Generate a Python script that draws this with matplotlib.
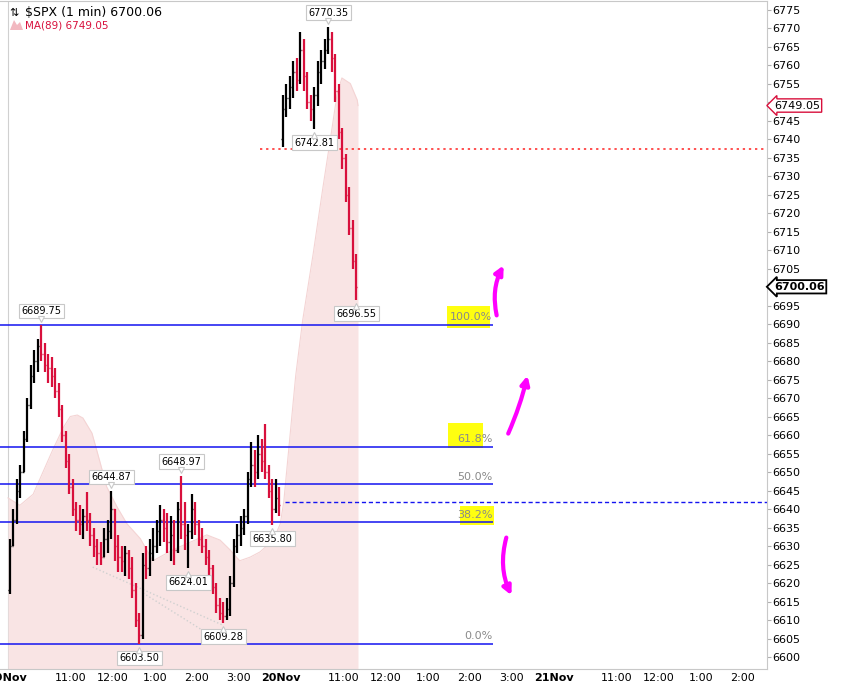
import numpy as np
import matplotlib.pyplot as plt
import matplotlib.transforms as mtransforms
from matplotlib.patches import Rectangle, Polygon

# 5-minute bars: 19Nov full session, 20Nov to ~11:20
highs = [6632, 6640, 6648, 6652, 6661, 6670, 6679, 6683, 6686, 6689.75,
         6685, 6682, 6681, 6678, 6674, 6668, 6661, 6655, 6648, 6642,
         6641, 6640, 6644.5, 6639, 6635, 6632, 6631, 6635, 6637, 6644.87,
         6640, 6633, 6630, 6630, 6629, 6627, 6620, 6612, 6628, 6630,
         6632, 6635, 6637, 6641, 6640, 6639, 6638, 6637, 6642, 6648.97,
         6642, 6636, 6644, 6642, 6637, 6635, 6632, 6629, 6625, 6620,
         6616, 6615, 6616, 6622, 6632, 6636, 6638, 6640, 6650, 6658,
         6656, 6660, 6659, 6663, 6652, 6648, 6648, 6646,
         6752, 6755, 6757, 6761, 6762, 6769, 6767, 6758, 6752, 6754,
         6761, 6764, 6767, 6770.35, 6769, 6763, 6755, 6743, 6736, 6727,
         6718, 6709]
lows = [6617, 6630, 6636, 6643, 6650, 6658, 6667, 6674, 6677, 6680,
        6677, 6674, 6673, 6670, 6665, 6658, 6651, 6644, 6638, 6634,
        6633, 6632, 6634, 6630, 6627, 6625, 6625, 6627, 6628, 6632,
        6626, 6623, 6623, 6622, 6621, 6616, 6608, 6603.5, 6605, 6621,
        6622, 6626, 6628, 6630, 6631, 6628, 6626, 6625, 6628, 6632,
        6629, 6624.01, 6632, 6633, 6630, 6628, 6625, 6622, 6617, 6612,
        6610, 6609.28, 6610, 6611, 6619, 6628, 6630, 6633, 6636, 6646,
        6646, 6648, 6650, 6648, 6643, 6635.8, 6639, 6638,
        6737.8, 6746, 6748, 6751, 6753, 6755, 6753, 6748, 6745, 6742.81,
        6749, 6755, 6759, 6763, 6758, 6750, 6740, 6732, 6723, 6714,
        6705, 6696.55]
closes = [6630, 6637, 6645, 6650, 6659, 6668, 6676, 6680, 6684, 6682,
          6679, 6678, 6676, 6672, 6667, 6660, 6653, 6646, 6640, 6637,
          6636, 6638, 6637, 6633, 6630, 6628, 6627, 6632, 6634, 6640,
          6630, 6627, 6626, 6628, 6624, 6618, 6610, 6606, 6625, 6624,
          6628, 6630, 6634, 6637, 6635, 6631, 6633, 6629, 6640, 6636,
          6633, 6634, 6640, 6636, 6632, 6630, 6627, 6624, 6619, 6614,
          6612, 6611, 6613, 6620, 6630, 6633, 6635, 6638, 6648, 6652,
          6650, 6655, 6653, 6650, 6645, 6640, 6643, 6641,
          6748, 6751, 6754, 6758, 6756, 6764, 6757, 6750, 6748, 6752,
          6758, 6761, 6764, 6767, 6762, 6753, 6742, 6735, 6725, 6716,
          6707, 6700.06]
session_bars = [78, 22]
session_opens = [6618, 6740]

# MA(89) (minutes since 19Nov 9:30, trading time)
ma_t = [0, 17, 36, 50, 64, 79, 89, 99, 107, 120, 131, 141, 156, 170, 189, 207,
        236, 260, 284, 303, 317, 331, 346, 360, 379, 389, 394, 403, 411, 421,
        436, 450, 463, 470, 477, 489, 499, 500]
ma_v = [6643, 6641, 6644, 6650, 6656, 6662, 6665, 6665.4, 6664.6, 6660.5,
        6653, 6646, 6640.5, 6636, 6632, 6626, 6629, 6631, 6633, 6631.6, 6629,
        6626, 6627, 6628.4, 6631.6, 6636, 6642, 6660, 6676, 6691, 6709, 6727,
        6743, 6752, 6756.5, 6755, 6750.5, 6749.05]

fib_low, fib_high = 6603.50, 6689.75
fib_pcts = [0.0, 38.2, 50.0, 61.8, 100.0]
prev_close = 6642.0
gap_level = 6737.3
last_price = 6700.06
ma_last = 6749.05

swing_highs = [6689.75, 6644.87, 6648.97, 6770.35]
swing_lows = [6603.50, 6624.01, 6609.28, 6635.80, 6742.81, 6696.55]

tick_pos = [0, 90, 150, 210, 270, 330, 390, 480, 540, 600, 660, 720,
            780, 870, 930, 990, 1050]
tick_lab = ['19Nov', '11:00', '12:00', '1:00', '2:00', '3:00', '20Nov',
            '11:00', '12:00', '1:00', '2:00', '3:00', '21Nov',
            '11:00', '12:00', '1:00', '2:00']

RED = '#d8103c'
BLUE = '#1414f0'

# bar positions: each session is 390 trading minutes
t = np.concatenate([k * 390 + np.arange(n) * 5 for k, n in enumerate(session_bars)]) + 2.5
highs = np.array(highs)
lows = np.array(lows)
closes = np.array(closes)
opens = np.r_[np.nan, closes[:-1]]
starts = np.cumsum([0] + session_bars[:-1])
opens[starts] = session_opens

fig = plt.figure(figsize=(8.66, 6.86), dpi=100)
ax = fig.add_axes([0, 17 / 686, 767 / 866, 668 / 686])
ymin, ymax = 6596.76, 6777.3
ax.set_xlim(-11.4, 1084.3)
ax.set_ylim(ymin, ymax)

# MA area
ax.fill_between(ma_t, ma_v, ymin, color='#f9e4e4', lw=0, zorder=0.5)
ax.plot(ma_t, ma_v, color='#f4d4d4', lw=0.8, zorder=0.6)

ax.axvline(0, color='#d0d0d0', lw=0.8, zorder=0.4)

# faint trend lines
ax.plot([121, 307], [6624.3, 6608.6], ls=':', color='#d0d0d0', lw=1, zorder=0.7)
ax.plot([193, 284], [6617.3, 6606.5], ls=':', color='#d0d0d0', lw=1, zorder=0.7)

# OHLC bars
cols = np.where(closes >= opens, 'black', RED)
ax.vlines(t, lows, highs, colors=cols, lw=1.6, zorder=3)
ax.hlines(opens, t - 1.8, t, colors=cols, lw=1, zorder=3)
ax.hlines(closes, t, t + 1.8, colors=cols, lw=1, zorder=3)

# fibonacci retracement
fib_end = 693
hl = {100.0: (627, 689, 6688.9, 6694.9), 61.8: (629, 679, 6656.6, 6663.2),
      38.2: (646, 694, 6635.7, 6640.8)}
for p in fib_pcts:
    lvl = fib_low + p / 100 * (fib_high - fib_low)
    ax.hlines(lvl, -20, fib_end, color=BLUE, lw=1.1, zorder=2)
    ax.text(fib_end - 1, lvl + 0.7, f'{p:.1f}%', ha='right', va='bottom',
            color='#8a8a8a', fontsize=8, zorder=4)
    if p in hl:
        x0, x1, y0, y1 = hl[p]
        ax.add_patch(Rectangle((x0, y0), x1 - x0, y1 - y0, color='#ffff10',
                               lw=0, zorder=1.5))

ax.hlines(prev_close, 396, 1100, color=BLUE, lw=1, ls=(0, (3, 2)), zorder=2)
ax.hlines(gap_level, 360, 1100, color='#ff2020', lw=1.1, ls=(0, (1.5, 2.5)), zorder=2)

# swing labels with a small pointer
box = dict(boxstyle='square,pad=0.25', fc='white', ec='#c8c8c8', lw=0.8)
up6 = ax.transData + mtransforms.ScaledTranslation(0, 6 / 100, fig.dpi_scale_trans)
down6 = ax.transData + mtransforms.ScaledTranslation(0, -6 / 100, fig.dpi_scale_trans)
for v in swing_highs:
    i = int(np.argmin(np.abs(highs - v)))
    ax.annotate(f'{v:.2f}', xy=(t[i], v), xytext=(0, 9), textcoords='offset pixels',
                ha='center', va='bottom', fontsize=7, bbox=box, zorder=5)
    ax.plot(t[i], v, marker='v', ms=5, mfc='white', mec='#c8c8c8', mew=0.8,
            zorder=5.5, transform=up6)
for v in swing_lows:
    i = int(np.argmin(np.abs(lows - v)))
    ax.annotate(f'{v:.2f}', xy=(t[i], v), xytext=(0, -9), textcoords='offset pixels',
                ha='center', va='top', fontsize=7, bbox=box, zorder=5)
    ax.plot(t[i], v, marker='^', ms=5, mfc='white', mec='#c8c8c8', mew=0.8,
            zorder=5.5, transform=down6)

# magenta hand-drawn arrows
arr = dict(arrowstyle='-|>,head_length=0.5,head_width=0.25', color='#ff00ff', lw=3)
ax.annotate('', xy=(710, 6706.5), xytext=(699, 6691.6),
            arrowprops=dict(arr, connectionstyle='arc3,rad=-0.2'))
ax.annotate('', xy=(743, 6676.8), xytext=(713, 6659.7),
            arrowprops=dict(arr, connectionstyle='arc3,rad=0.05'))
ax.annotate('', xy=(721, 6616), xytext=(713, 6633),
            arrowprops=dict(arr, connectionstyle='arc3,rad=0.2'))

# axes styling
ax.yaxis.tick_right()
yt = np.arange(6600, 6776, 5)
ax.set_yticks(yt)
ax.set_yticklabels(['' if v in (6700, 6750) else str(v) for v in yt])
ax.tick_params(axis='y', labelsize=8, length=3, color='#b0b0b0', pad=1)
ax.set_xticks(tick_pos)
ax.set_xticklabels(tick_lab)
ax.tick_params(axis='x', labelsize=8, length=0, pad=3)
for lab in ax.get_xticklabels():
    if 'Nov' in lab.get_text():
        lab.set_fontweight('bold')
for s in ['top', 'right', 'bottom']:
    ax.spines[s].set_color('#c8c8c8')
ax.spines['left'].set_visible(False)

# price tags on the right axis
ax.annotate(f'{ma_last:.2f}', xy=(1, ma_last), xycoords=('axes fraction', 'data'),
            xytext=(7, 0), textcoords='offset pixels', ha='left', va='center',
            fontsize=8, annotation_clip=False, zorder=6,
            bbox=dict(boxstyle='larrow,pad=0.15', fc='white', ec=RED, lw=1))
ax.annotate(f'{last_price:.2f}', xy=(1, last_price), xycoords=('axes fraction', 'data'),
            xytext=(7, 0), textcoords='offset pixels', ha='left', va='center',
            fontsize=8, fontweight='bold', annotation_clip=False, zorder=6,
            bbox=dict(boxstyle='larrow,pad=0.15', fc='white', ec='black', lw=1.3))

# legend text
fig.text(9 / 866, 1 - 13 / 686, '⇅', fontsize=8, va='center')
fig.text(25 / 866, 1 - 13 / 686, r'\$SPX (1 min) 6700.06', fontsize=9, va='center')
fig.add_artist(Polygon([[10 / 866, 1 - 30 / 686], [14 / 866, 1 - 20 / 686],
                        [17 / 866, 1 - 25 / 686], [20 / 866, 1 - 22 / 686],
                        [23 / 866, 1 - 30 / 686]], closed=True,
                       transform=fig.transFigure, fc='#f2b8c0', ec='none'))
fig.text(25 / 866, 1 - 26 / 686, f'MA(89) {ma_last:.2f}', fontsize=7.5,
         color=RED, va='center')

fig.savefig('out.png', dpi=100)
